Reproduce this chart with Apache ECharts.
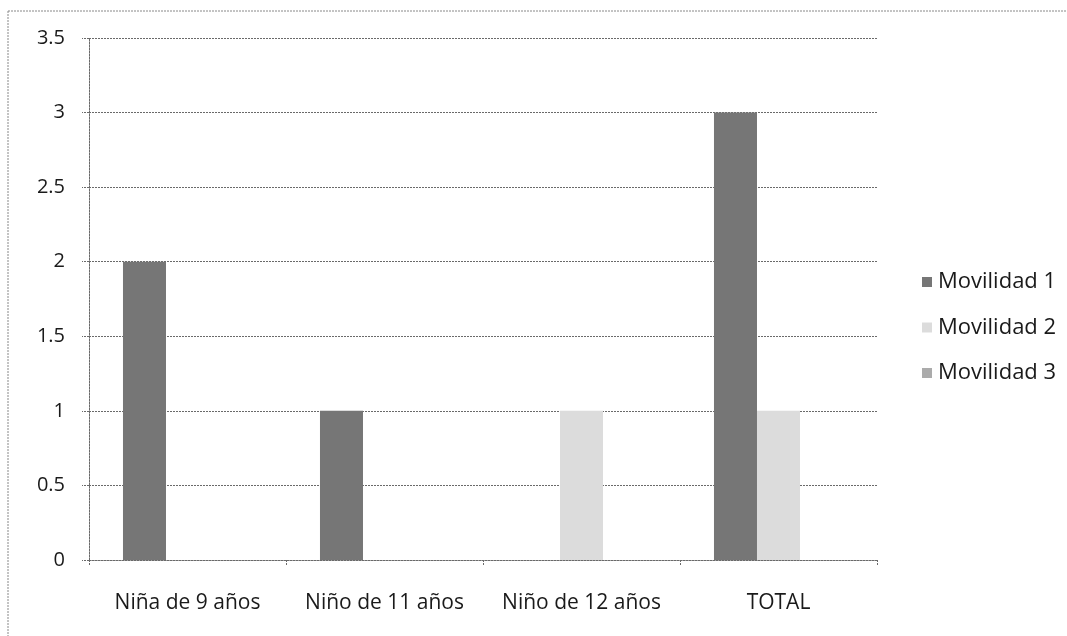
<!DOCTYPE html>
<html>
<head>
<meta charset="utf-8">
<script src="https://cdn.jsdelivr.net/npm/echarts@6/dist/echarts.min.js"></script>
<style>
  html, body { margin: 0; padding: 0; background: #fff; }
  #chart { width: 1067px; height: 636px; }
</style>
</head>
<body>
<div id="chart"></div>
<script>
// Categories and series values
const categories = ['Niña de 9 años', 'Niño de 11 años', 'Niño de 12 años', 'TOTAL'];
const movilidad1 = [2, 1, 0, 3];
const movilidad2 = [0, 0, 1, 1];
const movilidad3 = [0, 0, 0, 0];
const seriesNames = ['Movilidad 1', 'Movilidad 2', 'Movilidad 3'];
const seriesColors = ['#767676', '#dcdcdc', '#ababab'];

const FONT = '"Open Sans", sans-serif';
const lineStyle = { color: '#6a6a6a', width: 1, type: [2, 1] };

const chart = echarts.init(document.getElementById('chart'), null, { renderer: 'canvas' });

function bar(name, data, idx) {
  return {
    name: name,
    type: 'bar',
    data: data,
    barGap: '0%',
    barCategoryGap: '34.5%',
    itemStyle: { color: seriesColors[idx] },
    emphasis: { disabled: true }
  };
}

chart.setOption({
  animation: false,
  backgroundColor: '#ffffff',
  textStyle: { fontFamily: FONT },
  grid: { left: 89, right: 190, top: 38, bottom: 76, containLabel: false },
  legend: {
    orient: 'vertical',
    left: 917,
    top: 266,
    itemWidth: 10,
    itemHeight: 10,
    itemGap: 23.5,
    icon: 'rect',
    textStyle: { fontFamily: FONT, fontSize: 22, color: '#1a1a1a', padding: [0, 0, 0, 1] },
    data: seriesNames
  },
  xAxis: {
    type: 'category',
    data: categories,
    axisLine: { lineStyle: lineStyle },
    axisTick: { show: true, interval: 0, length: 6, lineStyle: lineStyle },
    axisLabel: { interval: 0, hideOverlap: false, fontFamily: FONT, fontSize: 21, color: '#1a1a1a', margin: 33 },
    splitLine: { show: false }
  },
  yAxis: {
    type: 'value',
    min: 0,
    max: 3.5,
    interval: 0.5,
    axisLine: { show: true, lineStyle: lineStyle },
    axisTick: { show: true, length: 7, lineStyle: lineStyle },
    axisLabel: { fontFamily: FONT, fontSize: 20, color: '#1a1a1a', margin: 24 },
    splitLine: { show: true, lineStyle: lineStyle }
  },
  series: [
    bar(seriesNames[0], movilidad1, 0),
    bar(seriesNames[1], movilidad2, 1),
    bar(seriesNames[2], movilidad3, 2)
  ],
  graphic: [
    { type: 'line', shape: { x1: 8, y1: 11, x2: 8, y2: 636 }, style: { stroke: '#888', lineWidth: 1, lineDash: [2, 1] } },
    { type: 'line', shape: { x1: 8, y1: 11, x2: 1067, y2: 11 }, style: { stroke: '#888', lineWidth: 1, lineDash: [2, 1] } }
  ]
});
</script>
</body>
</html>
